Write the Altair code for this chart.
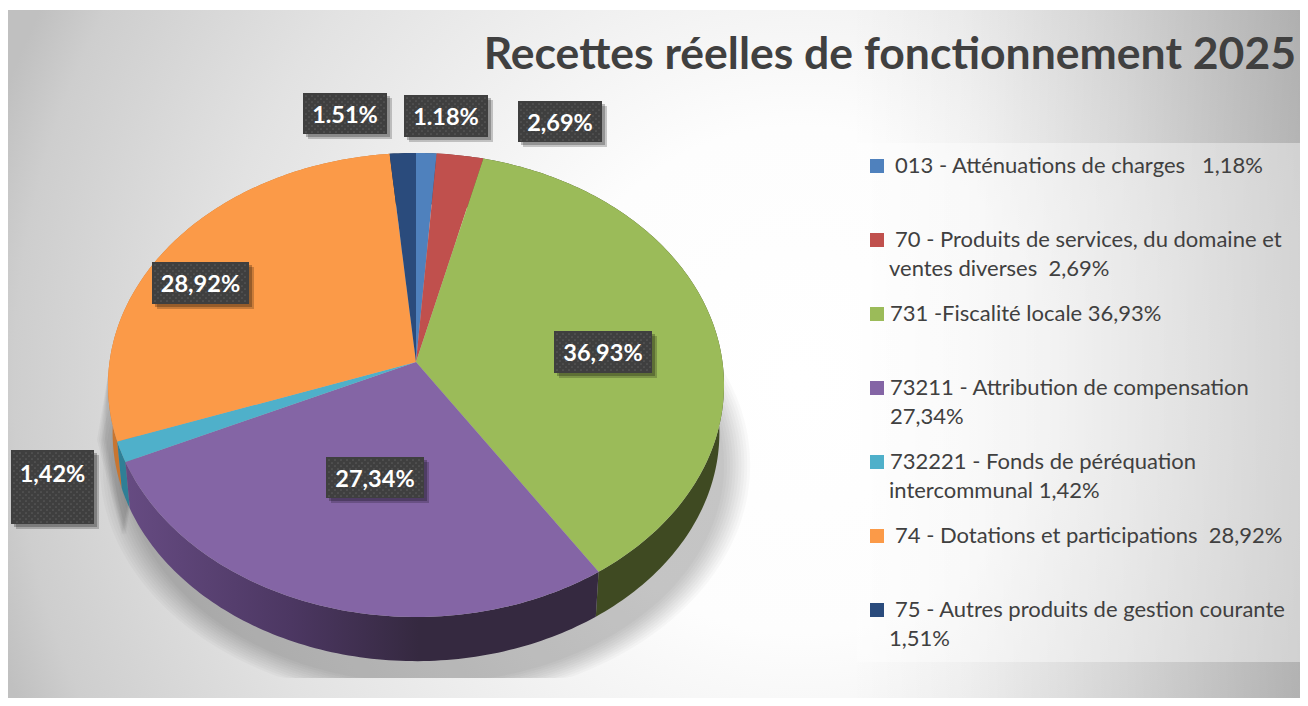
import math
import altair as alt

# ---- data ----
codes = ["013", "70", "731", "73211", "732221", "74", "75"]
values = [1.18, 2.69, 36.93, 27.34, 1.42, 28.92, 1.51]
data_labels = ["1.18%", "2,69%", "36,93%", "27,34%", "1,42%", "28,92%", "1.51%"]
legend_lines = [
    ["013 - Atténuations de charges\u00a0\u00a0\u00a01,18%"],
    ["70 - Produits de services, du domaine et", "ventes diverses\u00a0\u00a02,69%"],
    ["731 -Fiscalité locale 36,93%"],
    ["73211 - Attribution de compensation", "27,34%"],
    ["732221 - Fonds de péréquation", "intercommunal 1,42%"],
    ["74 - Dotations et participations\u00a0\u00a028,92%"],
    ["75 - Autres produits de gestion courante", "1,51%"],
]
title_text = "Recettes réelles de fonctionnement 2025"

# ---- style and layout ----
colors = ["#4f81bd", "#c0504d", "#9bbb59", "#8465a5", "#4fb0ca", "#fb9a48", "#2a4b7c"]
wall_colors = ["#2f4d71", "#73302e", "#3f4a22", "#4a3660", "#2f7f96", "#c87530", "#192c4a"]
FONT = "Lato"
TEXT = "#404040"
CX, CY = 416.0, 362.0
A, B, K = 306.5, 229.7, 0.0991
WALL_DY, WALL_S = 48.0, 0.985
label_boxes = [
    (404, 95, 488, 137, 118),
    (518, 101, 602, 142, 124),
    (554, 331, 652, 373, 354),
    (326, 457, 424, 498, 480),
    (11, 450, 94, 524, 475),
    (152, 262, 249, 304, 285),
    (303, 93, 387, 134, 116),
]
legend_tops = [159, 233, 307, 381, 455, 529, 603]
legend_first_x = [895, 895, 890, 890, 890, 895, 895]
legend_second_x = [None, 889, None, 890, 889, None, 889]
LINE_GAP = 29


def rim(t, dy=0.0, s=1.0):
    d = 1 + K * math.cos(t)
    return (CX + s * A * math.sin(t) / d, CY + dy - s * B * math.cos(t) / d)


def arc_pts(t0, t1, dy=0.0, s=1.0):
    n = max(2, int(abs(t1 - t0) / math.radians(1)) + 2)
    return [rim(t0 + (t1 - t0) * i / (n - 1), dy, s) for i in range(n)]


def feature(points, fill="#000000"):
    ring = [list(p) for p in points]
    ring.append(ring[0])
    return {"type": "Feature",
            "geometry": {"type": "Polygon", "coordinates": [ring]},
            "properties": {"fill": fill}}


def rect(x0, y0, x1, y1, fill="#000000"):
    return feature([(x0, y0), (x1, y0), (x1, y1), (x0, y1)], fill)


PROJ = dict(type="identity", scale=1, translate=[-8, -8])


def geo(features, **mark):
    base = alt.Chart(alt.Data(values=features)).mark_geoshape(strokeWidth=0, **mark)
    if "fill" not in mark:
        base = base.encode(fill=alt.Fill("properties.fill:N", scale=None))
    return base.project(**PROJ)


def texts(rows, **mark):
    return (alt.Chart(alt.Data(values=rows))
            .mark_text(font=FONT, baseline="middle", **mark)
            .encode(longitude="x:Q", latitude="y:Q", text="t:N")
            .project(**PROJ))


# ---- wedges ----
total = sum(values)
angles = [0.0]
for v in values:
    angles.append(angles[-1] + 2 * math.pi * v / total)

tops, walls = [], []
for i, col in enumerate(colors):
    t0, t1 = angles[i], angles[i + 1]
    tops.append(feature([(CX, CY)] + arc_pts(t0, t1), col))
    walls.append(feature(arc_pts(t0, t1) + arc_pts(t1, t0, WALL_DY, WALL_S), wall_colors[i]))

# ---- soft ground shadow, cut by the floor line ----
shadows = []
for n in range(10):
    grow = 1.01 - 0.009 * n
    pts = []
    for k in range(240):
        a = 2 * math.pi * k / 240
        pts.append((425 + 322 * grow * math.sin(a),
                    min(678, 465 + 235 * grow * math.cos(a))))
    shadows.append(feature(pts))
left_tip = [feature([(108, 375), (97 + n * 2, 440), (122 + n, 535), (140, 440)]) for n in range(5)]

# ---- background ----
bg_gradient = {
    "gradient": "radial", "x1": 0.609, "y1": 0.517, "r1": 0.0,
    "x2": 0.609, "y2": 0.517, "r2": 0.65,
    "stops": [
        {"offset": 0.0, "color": "#ffffff"},
        {"offset": 0.30, "color": "#fdfdfd"},
        {"offset": 0.44, "color": "#f4f4f4"},
        {"offset": 0.70, "color": "#e2e2e2"},
        {"offset": 0.93, "color": "#cecece"},
        {"offset": 1.0, "color": "#c0c0c0"},
    ],
}
right_fade = {
    "gradient": "linear", "x1": 0, "y1": 0, "x2": 1, "y2": 0,
    "stops": [
        {"offset": 0.0, "color": "rgba(0,0,0,0)"},
        {"offset": 0.25, "color": "rgba(0,0,0,0.03)"},
        {"offset": 0.6, "color": "rgba(0,0,0,0.11)"},
        {"offset": 1.0, "color": "rgba(0,0,0,0.22)"},
    ],
}
purple_wall = {
    "gradient": "linear", "x1": 0, "y1": 0, "x2": 1, "y2": 0,
    "stops": [
        {"offset": 0.0, "color": "#664b82"},
        {"offset": 0.35, "color": "#4c3762"},
        {"offset": 0.62, "color": "#352940"},
        {"offset": 1.0, "color": "#352940"},
    ],
}

# ---- label boxes ----
box_shadow = [rect(x0 + 5, y0 + 5, x1 + 5, y1 + 5) for x0, y0, x1, y1, _ in label_boxes]
box_shadow2 = [rect(x0 + 3, y0 + 3, x1 + 3, y1 + 3) for x0, y0, x1, y1, _ in label_boxes]
boxes = [rect(x0, y0, x1, y1, "#3f3f3f") for x0, y0, x1, y1, _ in label_boxes]
dots = []
for x0, y0, x1, y1, _ in label_boxes:
    yy, row = y0 + 3, 0
    while yy < y1 - 1:
        xx = x0 + 3 + (3 if row % 2 else 0)
        while xx < x1 - 1:
            dots.append({"x": xx, "y": yy})
            xx += 6
        yy += 3
        row += 1
label_rows = [{"x": (b[0] + b[2]) / 2, "y": b[4], "t": t} for b, t in zip(label_boxes, data_labels)]

# ---- legend ----
swatches = [rect(870, y, 884, y + 14, c) for y, c in zip(legend_tops, colors)]
legend_rows = []
for lines, top, x1, x2 in zip(legend_lines, legend_tops, legend_first_x, legend_second_x):
    legend_rows.append({"x": x1, "y": top + 7, "t": lines[0]})
    if len(lines) > 1:
        legend_rows.append({"x": x2, "y": top + 7 + LINE_GAP, "t": lines[1]})

layers = [
    geo([rect(8, 10, 1308, 706)], fill=bg_gradient),
    geo([rect(850, 10, 1308, 706)], fill=right_fade),
    geo(shadows, opacity=0.024),
    geo(left_tip, opacity=0.035),
    geo([walls[i] for i in (0, 1, 6, 5, 4, 2)]),
    geo([walls[3]], fill=purple_wall),
    geo(tops),
    geo(box_shadow, opacity=0.2),
    geo(box_shadow2, opacity=0.25),
    geo(boxes),
    (alt.Chart(alt.Data(values=dots))
     .mark_circle(size=3, color="#5c5c5c", opacity=1)
     .encode(longitude="x:Q", latitude="y:Q")
     .project(**PROJ)),
    texts(label_rows, fontSize=23.5, fontWeight="bold", color="#ffffff", align="center"),
    geo([rect(857, 143, 1300, 662, "#ffffff")], opacity=0.4),
    geo(swatches),
    texts(legend_rows, fontSize=22, color=TEXT, align="left"),
    texts([{"x": 1296, "y": 56, "t": title_text}], fontSize=44.5, fontWeight="bold", color=TEXT, align="right"),
]

chart = (alt.layer(*layers)
         .properties(width=1292, height=690, padding=0,
                     autosize=alt.AutoSizeParams(type="none"))
         .configure_view(stroke=None)
         .configure(background="#ffffff"))

chart.save("out.html", embed_options={"renderer": "svg", "actions": False})
